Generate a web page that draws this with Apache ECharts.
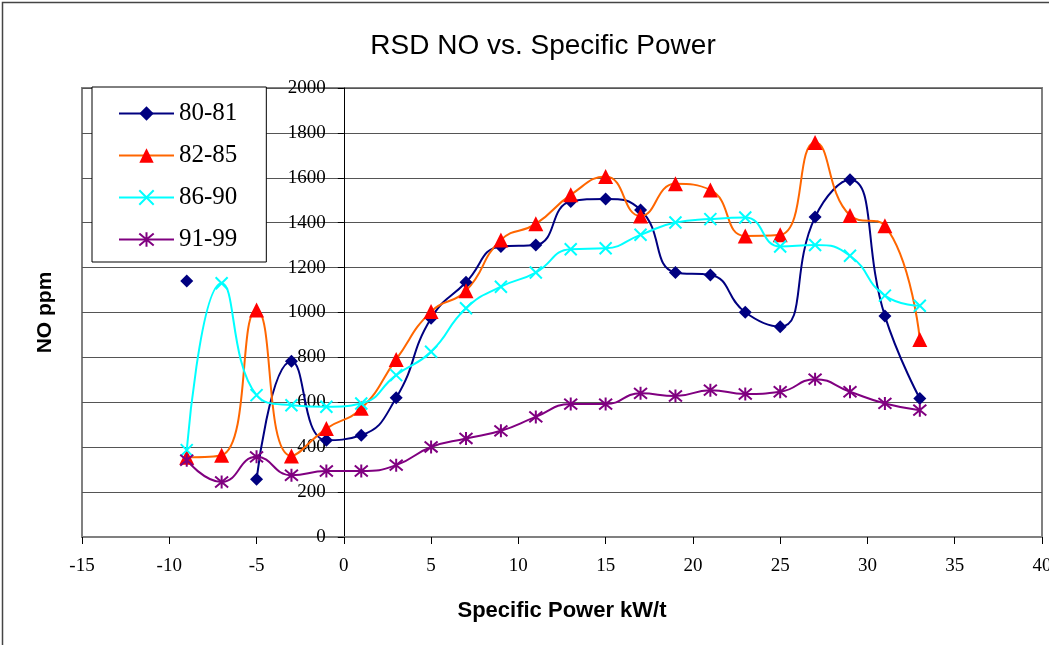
<!DOCTYPE html>
<html>
<head>
<meta charset="utf-8">
<script src="https://cdn.jsdelivr.net/npm/echarts@6/dist/echarts.min.js"></script>
<style>
html,body{margin:0;padding:0;background:#fff;}
#chart{width:1049px;height:645px;}
</style>
</head>
<body>
<div id="chart"></div>
<script>
var xs = [-9, -7, -5, -3, -1, 1, 3, 5, 7, 9, 11, 13, 15, 17, 19, 21, 23, 25, 27, 29, 31, 33];
var s8081 = [1140, null, 257, 783, 431, 453, 620, 974, 1135, 1294, 1301, 1494, 1506, 1457, 1178, 1167, 1001, 937, 1425, 1591, 984, 617];
var s8285 = [355, 364, 1011, 361, 483, 573, 791, 1004, 1097, 1323, 1395, 1524, 1606, 1430, 1573, 1546, 1341, 1346, 1757, 1432, 1386, 880];
var s8690 = [387, 1130, 632, 587, 580, 595, 721, 825, 1019, 1115, 1178, 1282, 1286, 1346, 1401, 1416, 1423, 1294, 1301, 1253, 1075, 1030];
var s9199 = [342, 245, 357, 275, 294, 294, 320, 401, 439, 473, 535, 592, 592, 640, 628, 654, 637, 647, 703, 647, 595, 565];
var seriesNames = ['80-81', '82-85', '86-90', '91-99'];

function pairs(vals) {
  return xs.map(function (x, i) { return [x, vals[i] == null ? '-' : vals[i]]; });
}

var chart = echarts.init(document.getElementById('chart'));
var serif = '"Liberation Serif", "Times New Roman", serif';
var sans = '"Liberation Sans", Arial, sans-serif';
var xPath = 'path://M0,0L10,10M10,0L0,10';
var starPath = 'path://M0,0L10,10M10,0L0,10M5,-1L5,11';
var gridLeft = 82;

chart.setOption({
  animation: false,
  backgroundColor: '#fff',
  graphic: [{
    type: 'rect', silent: true, z: 0,
    shape: { x: 2.5, y: 2.5, width: 1100, height: 700 },
    style: { fill: 'none', stroke: '#444', lineWidth: 1.5 }
  }],
  title: {
    text: 'RSD NO vs. Specific Power',
    left: 538, top: 27, textAlign: 'center',
    textStyle: { fontFamily: sans, fontSize: 28, fontWeight: 'normal', color: '#000' }
  },
  legend: {
    orient: 'vertical',
    left: 92, top: 87,
    padding: [14, 29, 10, 26],
    itemWidth: 55, itemHeight: 18, itemGap: 17,
    backgroundColor: '#fff', borderColor: '#000', borderWidth: 1,
    textStyle: { fontFamily: serif, fontSize: 25, color: '#000', lineHeight: 25 },
    data: seriesNames
  },
  grid: {
    left: gridLeft, right: 7, top: 88, bottom: 108,
    containLabel: false, outerBoundsMode: 'none',
    show: true, borderColor: '#808080', borderWidth: 2, backgroundColor: 'transparent'
  },
  xAxis: {
    type: 'value', min: -15, max: 40, interval: 5,
    name: 'Specific Power kW/t', nameLocation: 'middle', nameGap: 63,
    nameTextStyle: { fontFamily: sans, fontSize: 22, fontWeight: 'bold', color: '#000' },
    axisLine: { onZero: false, lineStyle: { color: '#808080', width: 2 } },
    axisTick: { show: true, length: 7, lineStyle: { color: '#000', width: 1 } },
    axisLabel: { fontFamily: serif, fontSize: 19, color: '#000', margin: 20,
      formatter: function (v) { return String(v); } },
    splitLine: { show: false }
  },
  yAxis: {
    type: 'value', min: 0, max: 2000, interval: 200,
    name: 'NO ppm', nameLocation: 'middle', nameGap: 288,
    nameTextStyle: { fontFamily: sans, fontSize: 21, fontWeight: 'bold', color: '#000' },
    axisLine: { show: true, onZero: false, lineStyle: { color: '#000', width: 1 } },
    axisTick: { show: true, length: 6, lineStyle: { color: '#000', width: 1 } },
    axisLabel: { fontFamily: serif, fontSize: 19, color: '#000', margin: 18,
      formatter: function (v) { return String(v); } },
    splitLine: { show: true, lineStyle: { color: '#555', width: 1.2 } }
  },
  series: [
    {
      name: '80-81', type: 'line', smooth: 0.5, data: pairs(s8081),
      symbol: 'diamond', symbolSize: 13,
      lineStyle: { color: '#000080', width: 2 },
      itemStyle: { color: '#000080' }
    },
    {
      name: '82-85', type: 'line', smooth: 0.5, data: pairs(s8285),
      symbol: 'triangle', symbolSize: 15,
      lineStyle: { color: '#FF6600', width: 2 },
      itemStyle: { color: '#FF0000' }
    },
    {
      name: '86-90', type: 'line', smooth: 0.5, data: pairs(s8690),
      symbol: xPath, symbolSize: 12,
      lineStyle: { color: '#00FFFF', width: 2 },
      itemStyle: { color: 'rgba(0,0,0,0)', borderColor: '#00FFFF', borderWidth: 2 }
    },
    {
      name: '91-99', type: 'line', smooth: 0.5, data: pairs(s9199),
      symbol: starPath, symbolSize: 13,
      lineStyle: { color: '#800080', width: 2 },
      itemStyle: { color: 'rgba(0,0,0,0)', borderColor: '#800080', borderWidth: 2 }
    }
  ]
});

// place the y axis (line, ticks, labels) at x = 0 of the x axis
var zeroPx = chart.convertToPixel({ xAxisIndex: 0 }, 0);
var off = zeroPx - gridLeft;
chart.setOption({
  yAxis: { offset: -off, nameGap: 288 }
});
</script>
</body>
</html>
